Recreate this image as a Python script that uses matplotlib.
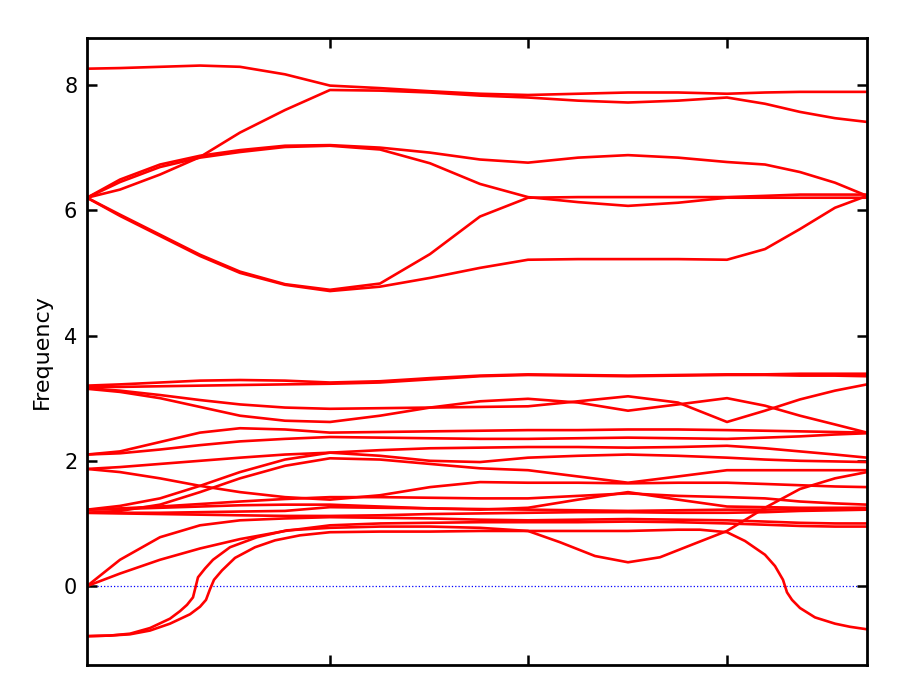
"""
Phonon band structure plot (frequency along a k-path).
"""

import matplotlib
matplotlib.use("Agg")
import matplotlib.pyplot as plt

# distance along the k-path (path ends at 780)
k_grid = [0, 33, 73, 113, 153, 198, 243, 293, 343, 393, 441,
          491, 541, 591, 640, 678, 713, 748, 780]
hs_points = [243, 441, 640]
k_end = 780

# optical bands, high group
band_u1 = [8.26, 8.27, 8.29, 8.31, 8.29, 8.17, 7.99, 7.95, 7.90, 7.86, 7.84,
           7.86, 7.88, 7.88, 7.86, 7.88, 7.89, 7.89, 7.89]
band_u2 = [6.20, 6.33, 6.57, 6.85, 7.24, 7.60, 7.92, 7.91, 7.88, 7.83, 7.80,
           7.75, 7.72, 7.75, 7.80, 7.70, 7.57, 7.47, 7.41]
band_u3 = [6.20, 6.49, 6.73, 6.87, 6.96, 7.03, 7.04, 7.00, 6.92, 6.81, 6.76,
           6.84, 6.88, 6.84, 6.77, 6.73, 6.61, 6.44, 6.23]
band_u4 = [6.20, 6.45, 6.69, 6.84, 6.93, 7.01, 7.03, 6.97, 6.75, 6.42, 6.21,
           6.13, 6.07, 6.12, 6.20, 6.20, 6.20, 6.20, 6.20]
band_u5 = [6.20, 5.93, 5.61, 5.29, 5.02, 4.82, 4.73, 4.83, 5.30, 5.90, 6.20,
           6.21, 6.21, 6.21, 6.21, 6.23, 6.25, 6.25, 6.25]
band_u6 = [6.20, 5.91, 5.59, 5.27, 5.00, 4.81, 4.71, 4.78, 4.92, 5.08, 5.21,
           5.22, 5.22, 5.22, 5.21, 5.38, 5.70, 6.04, 6.23]

# low group
band_a1 = [3.20, 3.22, 3.25, 3.28, 3.29, 3.28, 3.25, 3.27, 3.32, 3.36, 3.38,
           3.37, 3.36, 3.37, 3.38, 3.38, 3.39, 3.39, 3.39]
band_a2 = [3.18, 3.18, 3.19, 3.20, 3.21, 3.22, 3.23, 3.25, 3.30, 3.35, 3.37,
           3.36, 3.35, 3.36, 3.37, 3.37, 3.36, 3.36, 3.35]
band_a3 = [3.16, 3.12, 3.05, 2.97, 2.90, 2.85, 2.83, 2.84, 2.85, 2.86, 2.87,
           2.95, 3.03, 2.93, 2.62, 2.80, 2.98, 3.12, 3.22]
band_a4 = [3.15, 3.10, 3.00, 2.86, 2.72, 2.64, 2.62, 2.72, 2.85, 2.95, 2.99,
           2.93, 2.80, 2.90, 3.00, 2.88, 2.72, 2.58, 2.45]
band_a5 = [2.10, 2.15, 2.30, 2.45, 2.52, 2.50, 2.45, 2.46, 2.47, 2.48, 2.49,
           2.49, 2.50, 2.50, 2.49, 2.48, 2.47, 2.46, 2.45]
band_a6 = [2.10, 2.12, 2.18, 2.25, 2.31, 2.35, 2.38, 2.37, 2.36, 2.35, 2.35,
           2.36, 2.37, 2.36, 2.35, 2.37, 2.39, 2.42, 2.44]
band_b1 = [1.87, 1.90, 1.95, 2.00, 2.05, 2.10, 2.13, 2.17, 2.20, 2.21, 2.22,
           2.22, 2.21, 2.22, 2.24, 2.20, 2.15, 2.10, 2.05]
band_b2 = [1.22, 1.28, 1.40, 1.60, 1.82, 2.02, 2.13, 2.08, 2.00, 1.98, 2.05,
           2.08, 2.10, 2.08, 2.05, 2.02, 2.00, 1.99, 1.98]
band_b3 = [1.87, 1.82, 1.72, 1.60, 1.50, 1.42, 1.38, 1.45, 1.58, 1.66, 1.65,
           1.65, 1.64, 1.65, 1.65, 1.63, 1.61, 1.59, 1.58]
band_b4 = [1.17, 1.20, 1.30, 1.50, 1.72, 1.92, 2.04, 2.02, 1.95, 1.88, 1.85,
           1.75, 1.65, 1.75, 1.85, 1.85, 1.85, 1.85, 1.85]
band_c1 = [1.22, 1.24, 1.27, 1.31, 1.35, 1.39, 1.42, 1.42, 1.41, 1.40, 1.40,
           1.44, 1.48, 1.44, 1.42, 1.40, 1.35, 1.32, 1.30]
band_c2 = [1.22, 1.23, 1.25, 1.27, 1.29, 1.30, 1.30, 1.27, 1.24, 1.22, 1.25,
           1.38, 1.50, 1.38, 1.27, 1.26, 1.25, 1.25, 1.25]
band_c3 = [1.17, 1.17, 1.17, 1.18, 1.19, 1.20, 1.26, 1.25, 1.24, 1.23, 1.22,
           1.21, 1.20, 1.21, 1.22, 1.22, 1.23, 1.23, 1.24]
band_c4 = [1.17, 1.16, 1.15, 1.14, 1.13, 1.12, 1.12, 1.13, 1.15, 1.16, 1.17,
           1.18, 1.18, 1.17, 1.17, 1.18, 1.20, 1.21, 1.22]
band_d1 = [0.00, 0.42, 0.78, 0.97, 1.05, 1.08, 1.10, 1.09, 1.08, 1.06, 1.05,
           1.06, 1.07, 1.06, 1.05, 1.03, 1.01, 1.00, 1.00]
band_d2 = [0.00, 0.20, 0.42, 0.60, 0.75, 0.88, 0.97, 1.00, 1.01, 1.02, 1.02,
           1.02, 1.03, 1.02, 1.00, 0.98, 0.96, 0.95, 0.95]

# soft (imaginary) modes need a finer k sampling
k_soft1 = [0, 23, 43, 63, 83, 93, 100, 106, 111, 118, 126, 143, 170, 200, 243,
           293, 343, 393, 441, 473, 508, 541, 573, 608, 640, 678, 713, 748, 780]
band_s1 = [-0.80, -0.79, -0.76, -0.67, -0.52, -0.40, -0.30, -0.18, 0.14, 0.28,
           0.42, 0.62, 0.78, 0.89, 0.93, 0.95, 0.95, 0.93, 0.88, 0.70, 0.48,
           0.38, 0.46, 0.68, 0.88, 1.25, 1.55, 1.72, 1.82]
k_soft2 = [0, 23, 43, 63, 83, 103, 113, 119, 123, 127, 135, 148, 168, 188, 213,
           243, 293, 343, 393, 441, 491, 541, 591, 613, 640, 658, 678, 688, 696,
           700, 705, 713, 728, 748, 763, 780]
band_s2 = [-0.80, -0.79, -0.77, -0.71, -0.60, -0.45, -0.33, -0.22, -0.05, 0.10,
           0.25, 0.45, 0.62, 0.73, 0.81, 0.86, 0.87, 0.87, 0.88, 0.88, 0.88,
           0.88, 0.90, 0.90, 0.86, 0.72, 0.50, 0.32, 0.10, -0.10, -0.22, -0.35,
           -0.50, -0.60, -0.65, -0.69]

y_ticks = [0, 2, 4, 6, 8]
y_min, y_max = -1.26, 8.75


def plot_bands():
    fig = plt.figure(figsize=(9, 6.94), dpi=100)
    ax = fig.add_axes([87 / 900, 29 / 694, 780 / 900, 627 / 694])

    grid_bands = [band_u1, band_u2, band_u3, band_u4, band_u5, band_u6,
                  band_a1, band_a2, band_a3, band_a4, band_a5, band_a6,
                  band_b1, band_b2, band_b3, band_b4,
                  band_c1, band_c2, band_c3, band_c4, band_d1, band_d2]

    ax.axhline(0, color="blue", linestyle=":", linewidth=0.9, zorder=1)
    for band in grid_bands:
        ax.plot(k_grid, band, color="red", linewidth=1.9, zorder=2)
    ax.plot(k_soft1, band_s1, color="red", linewidth=1.9, zorder=2)
    ax.plot(k_soft2, band_s2, color="red", linewidth=1.9, zorder=2)

    ax.set_xlim(0, k_end)
    ax.set_ylim(y_min, y_max)
    ax.set_xticks(hs_points)
    ax.set_xticklabels([])
    ax.set_yticks(y_ticks)
    ax.tick_params(direction="in", length=7, width=1.8, top=True, right=True,
                   labelsize=15, pad=7)
    for spine in ax.spines.values():
        spine.set_linewidth(2)
    ax.set_ylabel("Frequency", fontsize=16, labelpad=9)

    fig.savefig("out.png", dpi=100)
    plt.close(fig)


if __name__ == "__main__":
    plot_bands()
